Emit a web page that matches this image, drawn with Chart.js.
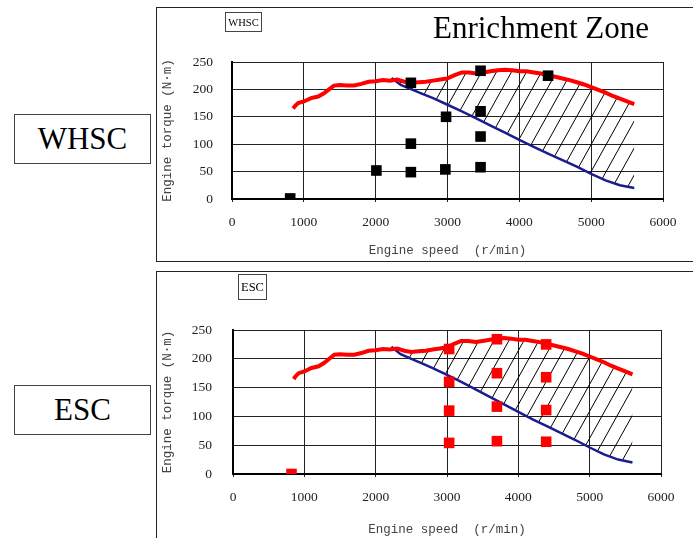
<!DOCTYPE html>
<html>
<head>
<meta charset="utf-8">
<script src="https://cdn.jsdelivr.net/npm/chart.js@4.4.1/dist/chart.umd.min.js"></script>
<style>
  body { margin: 0; width: 693px; height: 538px; position: relative; overflow: hidden; background: #fff; }
  .panel { position: absolute; box-sizing: border-box; border: 1px solid #222; }
  .label { position: absolute; box-sizing: border-box; border: 1px solid #444; display: flex; align-items: center; justify-content: center; font-family: "Liberation Serif", serif; color: #000; }
  canvas { position: absolute; }
</style>
</head>
<body>
<div class="panel" style="left:156px;top:7px;width:600px;height:255px"></div>
<div class="panel" style="left:156px;top:271px;width:600px;height:300px"></div>

<canvas id="whscChart" width="536" height="252" style="left:157px;top:8px"></canvas>
<canvas id="escChart" width="536" height="266" style="left:157px;top:272px"></canvas>

<div class="label" style="left:14px;top:114px;width:137px;height:50px;font-size:31px">WHSC</div>
<div class="label" style="left:14px;top:385px;width:137px;height:50px;font-size:31px">ESC</div>
<div class="label" style="left:225px;top:12px;width:37px;height:20px;font-size:10.5px">WHSC</div>
<div class="label" style="left:238px;top:274px;width:29px;height:26px;font-size:12.5px">ESC</div>
<div style="position:absolute;left:433px;top:12px;font-family:'Liberation Serif',serif;font-size:31px;line-height:31px;color:#000">Enrichment Zone</div>

<script>
// full load torque curve (red)
const redSpeed  = [850, 880, 920, 1000, 1100, 1200, 1280, 1350, 1420, 1500, 1600, 1700, 1800, 1900, 2000, 2100, 2200, 2300, 2400, 2500, 2600, 2700, 2800, 2900, 3000, 3100, 3200, 3300, 3400, 3500, 3600, 3700, 3800, 3900, 4000, 4100, 4200, 4300, 4400, 4500, 4600, 4700, 4800, 4900, 5000, 5100, 5200, 5300, 5400, 5500, 5600];
const redTorque = [165, 170, 175, 178, 184, 187, 193, 200, 207, 208, 207, 207, 210, 214, 215, 217, 216, 218, 214, 212, 213, 214, 216, 218, 220, 226, 231, 231, 229, 231, 233, 235, 236, 235, 233, 233, 231, 229, 226, 223, 220, 217, 213, 209, 204, 199, 194, 188, 183, 178, 173];

// enrichment boundary (blue)
const blueSpeed  = [2220, 2350, 2500, 2650, 2800, 3000, 3200, 3400, 3600, 3800, 4000, 4200, 4400, 4600, 4800, 5000, 5200, 5400, 5600];
const blueTorque = [221, 208, 200, 192, 184, 172, 160, 147, 134, 121, 108, 95, 83, 71, 59, 46, 34, 25, 20];

// WHSC test points
const whscSpeed  = [810, 2010, 2490, 2490, 2490, 2970, 2980, 3460, 3460, 3460, 3460, 4400];
const whscTorque = [1, 52, 49, 101, 212, 54, 150, 58, 114, 160, 234, 225];

// ESC test points
const escSpeed  = [820, 3030, 3030, 3030, 3030, 3700, 3700, 3700, 3700, 4390, 4390, 4390, 4390];
const escTorque = [0, 217, 160, 110, 54, 234, 175, 117, 57, 225, 168, 111, 56];

const speedTicks = [0, 1000, 2000, 3000, 4000, 5000, 6000];
const torqueTicks = [0, 50, 100, 150, 200, 250];

function toPoints(xs, ys) {
  return xs.map((x, i) => ({ x: x, y: ys[i] }));
}

function makeHatch() {
  const c = document.createElement('canvas');
  c.width = 15; c.height = 27;
  const g = c.getContext('2d');
  g.strokeStyle = '#000';
  g.lineWidth = 1;
  g.beginPath();
  g.moveTo(-15, 27); g.lineTo(0, 0);
  g.moveTo(0, 27); g.lineTo(15, 0);
  g.moveTo(15, 27); g.lineTo(30, 0);
  g.stroke();
  return g.createPattern(c, 'repeat');
}

const tickFont = { family: "'Liberation Serif', serif", size: 13.5 };
const titleFont = { family: "'Liberation Mono', monospace", size: 12.5 };

function makeChart(id, markX, markY, markColor, box) {
  new Chart(document.getElementById(id), {
    type: 'line',
    data: {
      datasets: [{
        data: toPoints(redSpeed, redTorque),
        borderColor: '#ff0000',
        borderWidth: 4,
        pointRadius: 0,
        fill: false,
        order: 1
      }, {
        data: toPoints(blueSpeed, blueTorque),
        borderColor: '#1c1c8e',
        borderWidth: 2.5,
        pointRadius: 0,
        fill: 0,
        backgroundColor: makeHatch(),
        order: 2
      }, {
        data: toPoints(markX, markY),
        showLine: false,
        pointStyle: 'rect',
        pointRadius: 7.5,
        pointBackgroundColor: markColor,
        pointBorderWidth: 0,
        order: 0
      }]
    },
    options: {
      responsive: false,
      animation: false,
      layout: { padding: { top: box.top, right: box.right, left: 0, bottom: 0 } },
      plugins: { legend: { display: false }, tooltip: { enabled: false } },
      scales: {
        x: {
          type: 'linear', min: 0, max: 6000,
          afterFit: s => { s.height = box.xh; },
          afterBuildTicks: s => { s.ticks = speedTicks.map(v => ({ value: v })); },
          ticks: { padding: 12, color: '#222', font: tickFont, maxRotation: 0, autoSkip: false, callback: v => String(v) },
          grid: { color: '#222', lineWidth: 1, tickLength: 3 },
          border: { color: '#000', width: 2 },
          title: { display: true, text: 'Engine speed  (r/min)', color: '#444', font: titleFont, padding: { top: 0, bottom: box.tb } }
        },
        y: {
          min: 0, max: 250,
          afterFit: s => { s.width = box.yw; },
          afterBuildTicks: s => { s.ticks = torqueTicks.map(v => ({ value: v })); },
          ticks: { padding: box.yp, color: '#222', font: tickFont, callback: v => String(v) },
          grid: { color: '#222', lineWidth: 1, drawTicks: false },
          border: { color: '#000', width: 2 },
          title: { display: true, text: 'Engine torque (N·m)', color: '#444', font: titleFont, padding: { top: 3, bottom: 0 } }
        }
      }
    }
  });
}

makeChart('whscChart', whscSpeed, whscTorque, '#000000', { top: 54, right: 30, xh: 61, yw: 75, yp: 19, tb: 1.5 });
makeChart('escChart', escSpeed, escTorque, '#ff0000', { top: 58, right: 32, xh: 64, yw: 76, yp: 21, tb: 0.5 });
</script>
</body>
</html>
